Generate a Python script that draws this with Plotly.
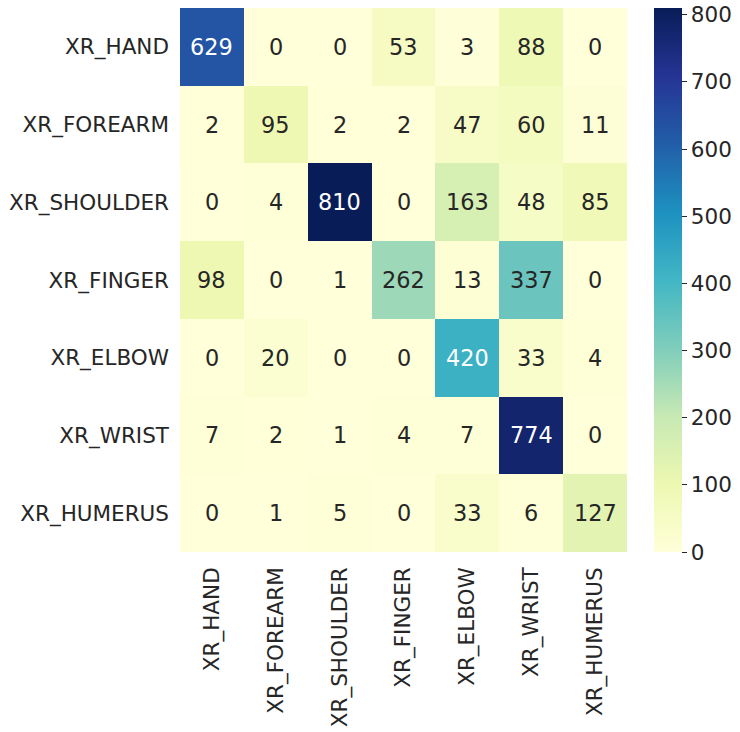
import plotly.graph_objects as go

categories = ["XR_HAND", "XR_FOREARM", "XR_SHOULDER", "XR_FINGER", "XR_ELBOW", "XR_WRIST", "XR_HUMERUS"]
values = [
    [629, 0, 0, 53, 3, 88, 0],
    [2, 95, 2, 2, 47, 60, 11],
    [0, 4, 810, 0, 163, 48, 85],
    [98, 0, 1, 262, 13, 337, 0],
    [0, 20, 0, 0, 420, 33, 4],
    [7, 2, 1, 4, 7, 774, 0],
    [0, 1, 5, 0, 33, 6, 127],
]
cbar_ticks = [0, 100, 200, 300, 400, 500, 600, 700, 800]

ylgnbu = ['#ffffd9', '#edf8b1', '#c7e9b4', '#7fcdbb', '#41b6c4',
          '#1d91c0', '#225ea8', '#253494', '#081d58']
colorscale = [[i / (len(ylgnbu) - 1), c] for i, c in enumerate(ylgnbu)]

FONT = "DejaVu Sans"
FS = 21.5
ANN_FS = 22.4
DARK = "#262626"
zmax = max(max(r) for r in values)

fig = go.Figure(go.Heatmap(
    z=values, x=categories, y=categories,
    colorscale=colorscale, zmin=0, zmax=zmax,
    xgap=0, ygap=0,
    colorbar=dict(
        x=1.0604, xanchor="left", xref="paper",
        y=0.5, yanchor="middle", len=1, lenmode="fraction",
        thickness=28, outlinewidth=0, xpad=0, ypad=0,
        tickvals=cbar_ticks, ticks="outside", ticklen=5, tickwidth=1.3,
        tickcolor=DARK,
        tickfont=dict(family=FONT, size=FS, color=DARK),
    ),
    hoverinfo="skip",
))

annotations = []
for i, row in enumerate(values):
    for j, v in enumerate(row):
        annotations.append(dict(
            x=categories[j], y=categories[i], text=str(v), showarrow=False,
            font=dict(family=FONT, size=ANN_FS, color="white" if v > 400 else DARK),
        ))

fig.update_layout(
    width=740, height=732,
    margin=dict(l=180, r=113, t=8, b=180, pad=0, autoexpand=False),
    paper_bgcolor="white", plot_bgcolor="white",
    annotations=annotations,
    xaxis=dict(tickangle=-90, tickfont=dict(family=FONT, size=FS, color=DARK),
               showgrid=False, zeroline=False, ticks="", ticklabelstandoff=10,
               automargin=False),
    yaxis=dict(autorange="reversed", tickfont=dict(family=FONT, size=FS, color=DARK),
               showgrid=False, zeroline=False, ticks="", ticklabelstandoff=10,
               automargin=False),
)

fig.write_html("out.html", config={"displayModeBar": False},
               post_script="document.body.style.margin='0';")
